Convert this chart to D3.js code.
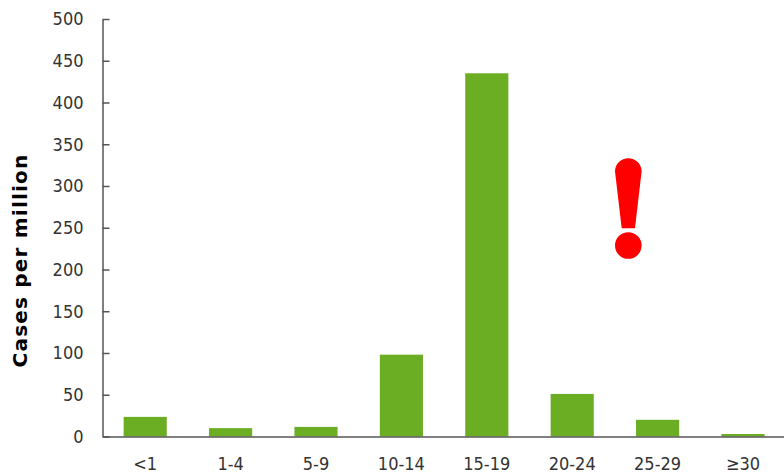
<!DOCTYPE html>
<html>
<head>
<meta charset="utf-8">
<script src="https://cdn.jsdelivr.net/npm/d3@7"></script>
<style>
    html, body { margin: 0; padding: 0; background: #fff; overflow: hidden; }
    .tick text { font-family: "DejaVu Sans Condensed", "DejaVu Sans", sans-serif; font-stretch: condensed; font-size: 18px; fill: #333; }
    .domain, .tick line { stroke: #555; stroke-width: 1.5px; }
</style>
</head>
<body>
<div id="chart"></div>
<script>
// chart data
var ageGroups = ["<1", "1-4", "5-9", "10-14", "15-19", "20-24", "25-29", "≥30"];
var casesPerMillion = [23.5, 10, 11.5, 98, 435, 51, 20, 3];
var yTicks = [0, 50, 100, 150, 200, 250, 300, 350, 400, 450, 500];

// graph specs
var width = 784;
var height = 475;
var padding = {top: 19, bottom: 38.5, left: 102.5, right: -1.7};

var svg = d3.select("#chart").append("svg").attr("width", width).attr("height", height);

// scales
var xscale = d3.scaleBand()
    .domain(ageGroups)
    .range([padding.left, width - padding.right])
    .paddingInner(0.495)
    .paddingOuter(0.2475);

var yscale = d3.scaleLinear()
    .domain([0, 500])
    .range([height - padding.bottom, padding.top]);

// bars
svg.selectAll(".bar").data(casesPerMillion).enter().append("rect")
    .attr("class", "bar")
    .attr("x", function(d, i) { return xscale(ageGroups[i]); })
    .attr("y", function(d) { return yscale(d); })
    .attr("width", xscale.bandwidth())
    .attr("height", function(d) { return yscale(0) - yscale(d); })
    .attr("fill", "#6bae23");

// y axis, ticks point into the plot
var yaxis = d3.axisLeft(yscale).tickValues(yTicks).tickSize(-7).tickSizeOuter(0).tickPadding(19);
svg.append("g")
    .attr("class", "axis")
    .attr("transform", "translate(" + padding.left + ",0)")
    .call(yaxis);

// x axis, no tick marks
var xaxis = d3.axisBottom(xscale).tickSize(0).tickPadding(21);
svg.append("g")
    .attr("class", "axis")
    .attr("transform", "translate(0," + yscale(0) + ")")
    .call(xaxis);

// y axis title
svg.append("text")
    .text("Cases per million")
    .attr("transform", "translate(27,260.5) rotate(-90)")
    .attr("text-anchor", "middle")
    .style("font-family", "'DejaVu Sans', sans-serif")
    .style("font-weight", "bold")
    .style("font-size", "20px")
    .style("letter-spacing", "1.2px")
    .style("fill", "#000");

// red exclamation mark annotation
var bang = d3.path();
bang.moveTo(615, 171.5);
bang.arc(628.3, 171.5, 13.3, Math.PI, 0);
bang.lineTo(635, 228.3);
bang.lineTo(621.7, 228.3);
bang.closePath();
bang.moveTo(641.6, 245.5);
bang.arc(628.3, 245.5, 13.3, 0, 2 * Math.PI);
svg.append("path")
    .attr("d", bang.toString())
    .attr("fill", "#ff0000")
    .attr("role", "img")
    .attr("aria-label", "!");
</script>
</body>
</html>
